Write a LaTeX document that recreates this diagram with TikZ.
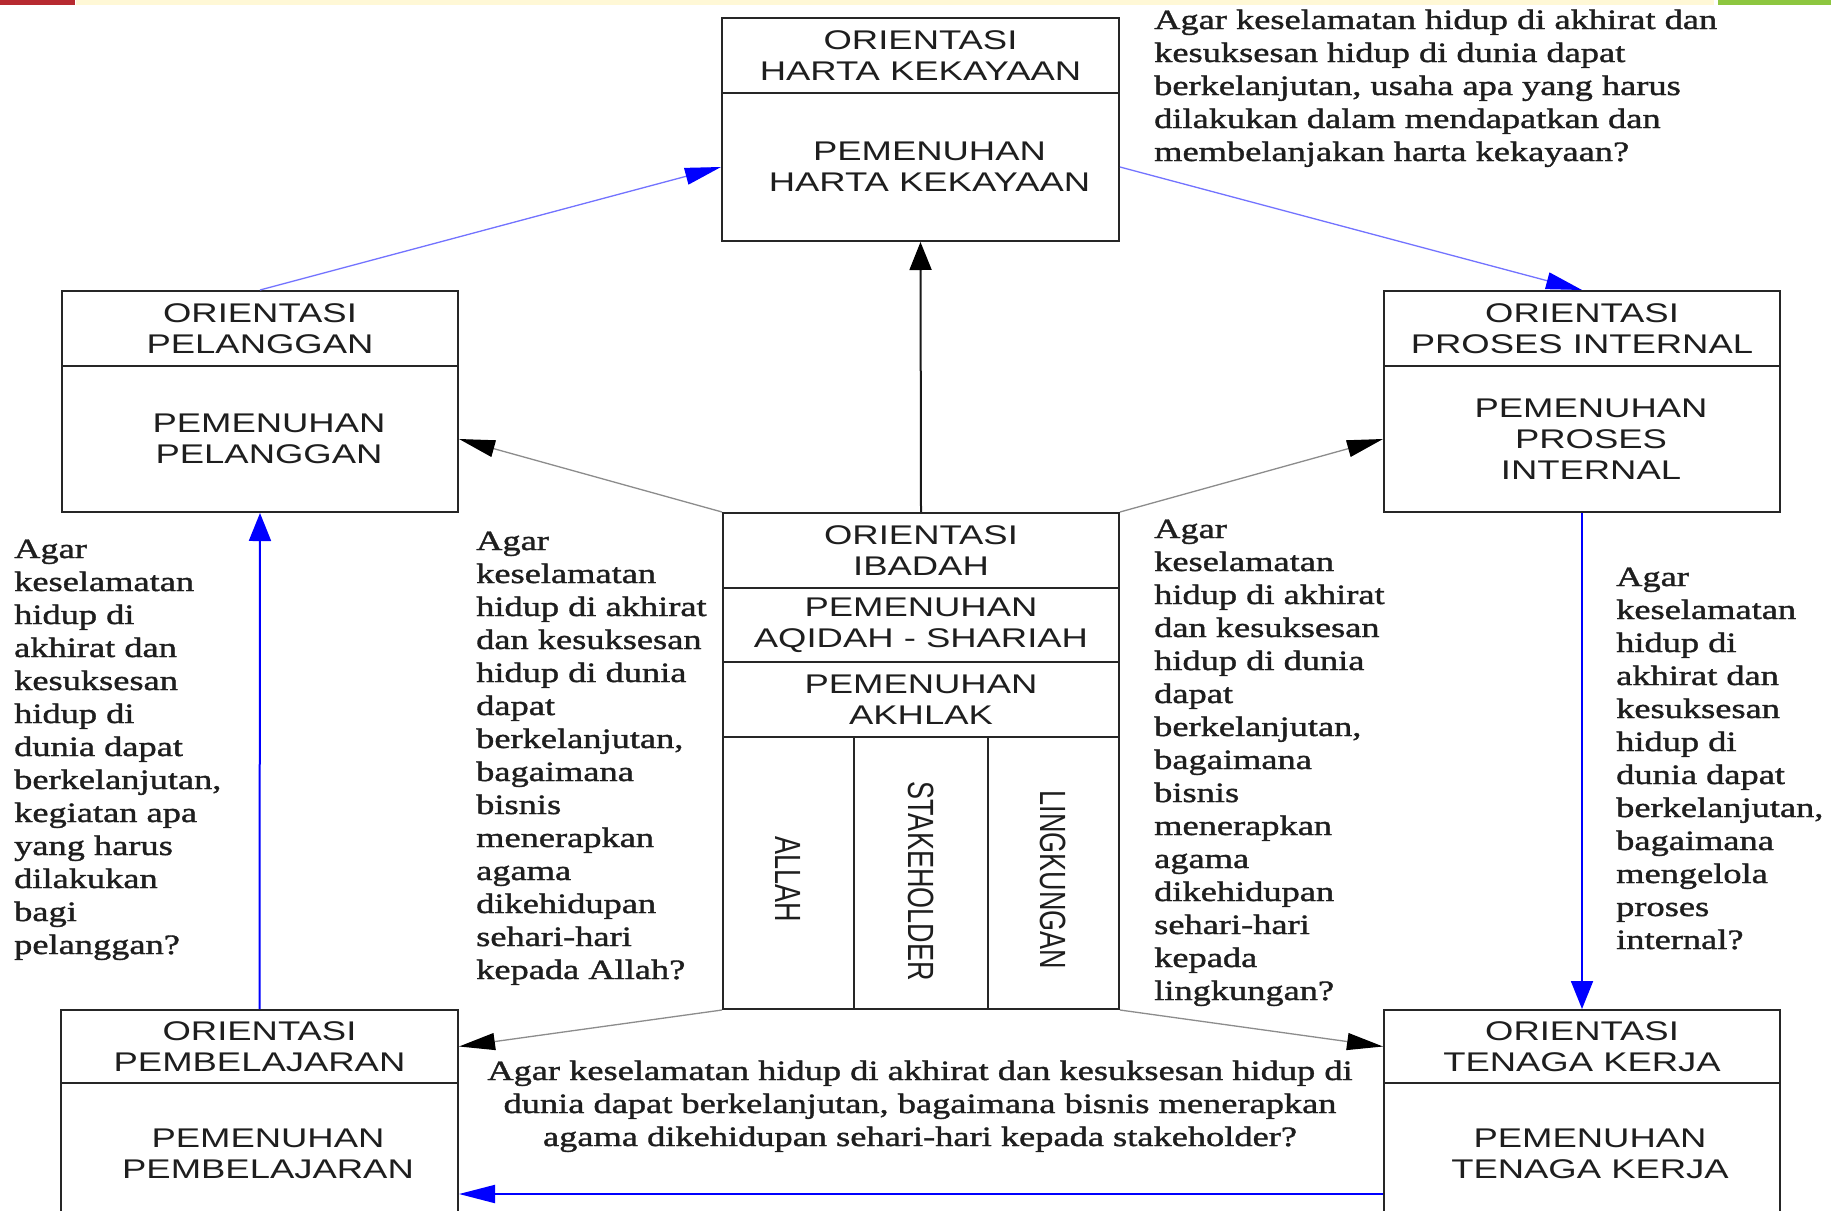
\documentclass[tikz,border=0pt]{standalone}
\usepackage{fontspec}
\usepackage{graphicx}
\usetikzlibrary{arrows.meta}

\newfontfamily\boxfont{Liberation Sans}[FakeStretch=1.35]
\newfontfamily\plainsans{Liberation Sans}
\newfontfamily\notefont{Liberation Serif}[FakeStretch=1.3,FakeBold=1.3]

% left-aligned and centred blocks of question text, baseline on the first line
\newcommand\notelines[1]{\begin{tabular}[t]{@{}l@{}}#1\end{tabular}}
\newcommand\notecentre[1]{\begin{tabular}[t]{@{}c@{}}#1\end{tabular}}
% column label set vertically, reading downwards
\newcommand\colword[1]{\scalebox{1.35}[1]{\rotatebox{-90}{\plainsans\fontsize{27}{28}\selectfont #1}}}

\definecolor{inkgray}{HTML}{1E1E1E}
\definecolor{bandyellow}{HTML}{FFF8D6}
\definecolor{bandred}{HTML}{B72A30}
\definecolor{bandgreen}{HTML}{8DC63F}

\begin{document}
\begin{tikzpicture}[x=1pt,y=-1pt,
  sect/.style={draw=black!85, line width=2pt, inner sep=0pt, anchor=north west,
    align=center, text=inkgray, font=\boxfont\fontsize{27}{31}\selectfont},
  boxtext/.style={inner sep=0pt, align=center, text=inkgray,
    font=\boxfont\fontsize{27}{31}\selectfont},
  note/.style={inner sep=0pt, anchor=base west, text=inkgray,
    font=\notefont\fontsize{28}{33}\selectfont},
  notemid/.style={inner sep=0pt, anchor=base, text=inkgray,
    font=\notefont\fontsize{28}{33}\selectfont},
  thinblue/.style={draw=blue!55, line width=1.3pt,
    -{Triangle[length=36pt,width=17pt,color=blue]}},
  thingray/.style={draw=black!45, line width=1.3pt,
    -{Triangle[length=36pt,width=17pt,color=black]}},
  mainblack/.style={draw=black!90, line width=2pt,
    -{Triangle[length=28pt,width=22pt,color=black]}},
  thickblue/.style={draw=blue, line width=2pt,
    -{Triangle[length=28pt,width=22pt,color=blue]}},
  flatblue/.style={draw=blue, line width=2pt,
    -{Triangle[length=36pt,width=18pt,color=blue]}}
]
\path[use as bounding box] (0,0) rectangle (1831,1210);
\clip (0,0) rectangle (1831,1210);
\fill[white] (0,0) rectangle (1831,1210);

% header band
\fill[bandyellow] (76,0) rectangle (1714,5);
\fill[bandred] (0,0) rectangle (75,5);
\fill[bandgreen] (1718,0) rectangle (1831,5);

% wealth
\node[sect, minimum width=397pt, minimum height=75pt] (hartaT) at (721,17) {ORIENTASI\\HARTA KEKAYAAN};
\node[sect, minimum width=397pt, minimum height=148pt] (hartaB) at (721,92) {};
\node[boxtext, xshift=9pt] (hartaBtx) at (hartaB.center) {PEMENUHAN\\HARTA KEKAYAAN};

% customers
\node[sect, minimum width=396pt, minimum height=75pt] (pelT) at (61,290) {ORIENTASI\\PELANGGAN};
\node[sect, minimum width=396pt, minimum height=146pt] (pelB) at (61,365) {};
\node[boxtext, xshift=9pt] (pelBtx) at (pelB.center) {PEMENUHAN\\PELANGGAN};

% internal process
\node[sect, minimum width=396pt, minimum height=75pt] (prosT) at (1383,290) {ORIENTASI\\PROSES INTERNAL};
\node[sect, minimum width=396pt, minimum height=146pt] (prosB) at (1383,365) {};
\node[boxtext, xshift=9pt] (prosBtx) at (prosB.center) {PEMENUHAN\\PROSES\\INTERNAL};

% worship (centre)
\node[sect, minimum width=396pt, minimum height=75pt] (ibaT) at (722,512) {ORIENTASI\\IBADAH};
\node[sect, minimum width=396pt, minimum height=74pt] (ibaS) at (722,587) {PEMENUHAN\\AQIDAH - SHARIAH};
\node[sect, minimum width=396pt, minimum height=75pt] (ibaA) at (722,661) {PEMENUHAN\\AKHLAK};
\node[sect, minimum width=131pt, minimum height=272pt] (colA) at (722,736) {};
\node[sect, minimum width=134pt, minimum height=272pt] (colB) at (853,736) {};
\node[sect, minimum width=131pt, minimum height=272pt] (colC) at (987,736) {};
\node[inner sep=0pt, text=inkgray, yshift=-6pt] (allah) at (colA.center) {\colword{ALLAH}};
\node[inner sep=0pt, text=inkgray, yshift=-8pt] (stake) at (colB.center) {\colword{STAKEHOLDER}};
\node[inner sep=0pt, text=inkgray, yshift=-7pt] (lingk) at (colC.center) {\colword{LINGKUNGAN}};

% learning
\node[sect, minimum width=397pt, minimum height=73pt] (pembT) at (60,1009) {ORIENTASI\\PEMBELAJARAN};
\node[sect, minimum width=397pt, minimum height=222pt] (pembB) at (60,1082) {};
\node[boxtext] (pembBtx) at (268,1154) {PEMENUHAN\\PEMBELAJARAN};

% workforce
\node[sect, minimum width=396pt, minimum height=73pt] (tenT) at (1383,1009) {ORIENTASI\\TENAGA KERJA};
\node[sect, minimum width=396pt, minimum height=222pt] (tenB) at (1383,1082) {};
\node[boxtext] (tenBtx) at (1590,1154) {PEMENUHAN\\TENAGA KERJA};

% guiding questions
\node[note] (qharta) at (1154,29) {\notelines{Agar keselamatan hidup di akhirat dan\\
kesuksesan hidup di dunia dapat\\
berkelanjutan, usaha apa yang harus\\
dilakukan dalam mendapatkan dan\\
membelanjakan harta kekayaan?}};

\node[note] (qpel) at (14,558) {\notelines{Agar\\keselamatan\\hidup di\\akhirat dan\\kesuksesan\\hidup di\\dunia dapat\\berkelanjutan,\\kegiatan apa\\yang harus\\dilakukan\\bagi\\pelanggan?}};

\node[note] (qallah) at (476,550) {\notelines{Agar\\keselamatan\\hidup di akhirat\\dan kesuksesan\\hidup di dunia\\dapat\\berkelanjutan,\\bagaimana\\bisnis\\menerapkan\\agama\\dikehidupan\\sehari-hari\\kepada Allah?}};

\node[note] (qling) at (1154,538) {\notelines{Agar\\keselamatan\\hidup di akhirat\\dan kesuksesan\\hidup di dunia\\dapat\\berkelanjutan,\\bagaimana\\bisnis\\menerapkan\\agama\\dikehidupan\\sehari-hari\\kepada\\lingkungan?}};

\node[note] (qpros) at (1616,586) {\notelines{Agar\\keselamatan\\hidup di\\akhirat dan\\kesuksesan\\hidup di\\dunia dapat\\berkelanjutan,\\bagaimana\\mengelola\\proses\\internal?}};

\node[notemid] (qstake) at (920,1080) {\notecentre{Agar keselamatan hidup di akhirat dan kesuksesan hidup di\\
dunia dapat berkelanjutan, bagaimana bisnis menerapkan\\
agama dikehidupan sehari-hari kepada stakeholder?}};

% connectors
\draw[thinblue] (pelT.north) -- (hartaB.west);
\draw[thinblue] (hartaB.east) -- (prosT.north);
\draw[mainblack] (ibaT.north) -- (hartaB.south);
\draw[thingray] (ibaT.north west) -- (pelB.east);
\draw[thingray] (ibaT.north east) -- (prosB.west);
\draw[thingray] (colA.south west) -- (pembT.east);
\draw[thingray] (colC.south east) -- (tenT.west);
\draw[thickblue] (pembT.north) -- (pelB.south);
\draw[thickblue] (prosB.south) -- (tenT.north);
\draw[flatblue] (tenB.west) -- (pembB.east);
\end{tikzpicture}
\end{document}
